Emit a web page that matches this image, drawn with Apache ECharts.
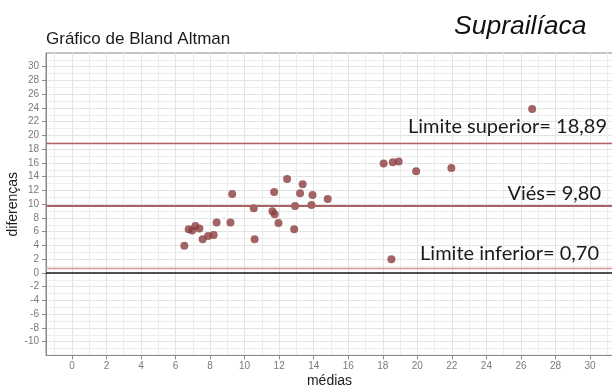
<!DOCTYPE html>
<html>
<head>
<meta charset="utf-8">
<script src="https://cdn.jsdelivr.net/npm/echarts@6/dist/echarts.min.js"></script>
<style>
  html, body { margin: 0; padding: 0; background: #ffffff; }
  #chart { width: 612px; height: 390px; }
</style>
</head>
<body>
<div id="chart"></div>
<script>
// Bland-Altman: mean of the two methods (x) vs. their difference (y)
const medias = [6.51, 6.76, 6.96, 7.15, 7.38, 7.57, 7.89, 8.21, 8.38, 9.18, 9.28,
  10.53, 10.58, 11.61, 11.71, 11.74, 11.96, 12.46, 12.87, 12.92, 13.21, 13.36,
  13.87, 13.93, 14.81, 18.05, 18.58, 18.92, 19.93, 21.97, 26.65, 18.50];
const diferencas = [3.97, 6.36, 6.16, 6.84, 6.45, 4.91, 5.39, 5.53, 7.32, 7.32, 11.50,
  9.42, 4.91, 8.98, 11.79, 8.54, 7.28, 13.68, 6.36, 9.75, 11.60, 12.91,
  9.90, 11.35, 10.77, 15.91, 16.11, 16.20, 14.80, 15.28, 23.87, 1.99];

// Bias and limits of agreement
const vies = 9.80;
const limiteSuperior = 18.89;
const limiteInferior = 0.70;

// Tick labels and grid positions
const xTicks = [0, 2, 4, 6, 8, 10, 12, 14, 16, 18, 20, 22, 24, 26, 28, 30];
const xMinorGrid = [-1, 1, 3, 5, 7, 9, 11, 13, 15, 17, 19, 21, 23, 25, 27, 29, 31];
const yTicks = [-10, -8, -6, -4, -2, 0, 2, 4, 6, 8, 10, 12, 14, 16, 18, 20, 22, 24, 26, 28, 30];

const fmt = v => v.toFixed(2).replace('.', ',');
const points = medias.map((m, i) => [m, diferencas[i]]);

const sansFont = '"Liberation Sans", Arial, sans-serif';
const labelFont = 'Lato, "Open Sans", sans-serif';
const chart = echarts.init(document.getElementById('chart'), null, { renderer: 'canvas' });

chart.setOption({
  animation: false,
  backgroundColor: '#ffffff',
  title: [
    {
      text: 'Gráfico de Bland Altman',
      left: 46, top: 31, padding: 0,
      textStyle: { fontFamily: sansFont, fontSize: 17, fontWeight: 'normal', color: '#1a1a1a' }
    },
    {
      text: 'Suprailíaca',
      left: 454, top: 13, padding: 0,
      textStyle: { fontFamily: sansFont, fontSize: 26.5, fontStyle: 'italic', fontWeight: 'normal', color: '#111111' }
    }
  ],
  grid: {
    left: 46, right: -1, top: 53, height: 302.4,
    outerBoundsMode: 'none', containLabel: false,
    show: true, borderColor: '#8a8a8a', borderWidth: 1, backgroundColor: 'transparent'
  },
  xAxis: [
    {
      type: 'value', min: -1.5, max: 31.33, position: 'bottom',
      name: 'médias', nameLocation: 'middle', nameGap: 19, nameMoveOverlap: false,
      nameTextStyle: { fontFamily: sansFont, fontSize: 14, color: '#1a1a1a' },
      axisLine: { show: true, onZero: false, lineStyle: { color: '#8a8a8a', width: 1 } },
      axisTick: { show: true, length: 4, customValues: xTicks, lineStyle: { color: '#8a8a8a' } },
      axisLabel: { customValues: xTicks, margin: 6, color: '#7a7a7a', fontSize: 10, fontFamily: sansFont },
      splitLine: { show: true, lineStyle: { color: '#e3e3e3', width: 1 } }
    },
    {
      type: 'value', min: -1.5, max: 31.33, position: 'bottom',
      axisLine: { show: false, onZero: false },
      axisTick: { show: false, customValues: xMinorGrid },
      axisLabel: { show: false, customValues: xMinorGrid },
      splitLine: { show: true, lineStyle: { color: '#ededed', width: 1 } }
    }
  ],
  yAxis: {
    type: 'value', min: -12, max: 32, interval: 2,
    name: 'diferenças', nameLocation: 'middle', nameGap: 26, nameRotate: 90, nameMoveOverlap: false,
    nameTextStyle: { fontFamily: sansFont, fontSize: 14, color: '#1a1a1a' },
    axisLine: { show: true, onZero: false, lineStyle: { color: '#8a8a8a', width: 1 } },
    axisTick: { show: true, length: 4, customValues: yTicks, lineStyle: { color: '#8a8a8a' } },
    axisLabel: { customValues: yTicks, margin: 7, color: '#7a7a7a', fontSize: 10, fontFamily: sansFont },
    splitLine: { show: true, lineStyle: { color: '#e3e3e3', width: 1 } },
    minorTick: { show: false, splitNumber: 2 },
    minorSplitLine: { show: true, lineStyle: { color: '#ededed', width: 1 } }
  },
  series: [
    {
      type: 'scatter',
      xAxisIndex: 0, yAxisIndex: 0,
      data: points,
      symbolSize: 8,
      itemStyle: { color: '#8b3d3d', opacity: 0.8 },
      markLine: {
        silent: true,
        symbol: 'none',
        animation: false,
        data: [
          {
            yAxis: 0,
            lineStyle: { color: '#1a1a1a', width: 1.6, type: 'solid' },
            label: { show: false }
          },
          {
            yAxis: limiteSuperior,
            lineStyle: { color: '#b46464', width: 1.3, type: 'solid' },
            label: {
              show: true, position: 'insideEndTop', distance: [6, 7],
              formatter: () => 'Limite superior= ' + fmt(limiteSuperior),
              fontFamily: labelFont, fontSize: 20, color: '#1a1a1a'
            }
          },
          {
            yAxis: vies,
            lineStyle: { color: '#a86262', width: 2.2, type: 'solid' },
            label: {
              show: true, position: 'insideEndTop', distance: [12, 2],
              formatter: () => 'Viés= ' + fmt(vies),
              fontFamily: labelFont, fontSize: 20, color: '#1a1a1a'
            }
          },
          {
            yAxis: limiteInferior,
            lineStyle: { color: '#d49a9a', width: 1.4, type: 'solid' },
            label: {
              show: true, position: 'insideEndTop', distance: [14, 5],
              formatter: () => 'Limite inferior= ' + fmt(limiteInferior),
              fontFamily: labelFont, fontSize: 20, color: '#1a1a1a'
            }
          }
        ]
      }
    }
  ]
});
</script>
</body>
</html>
